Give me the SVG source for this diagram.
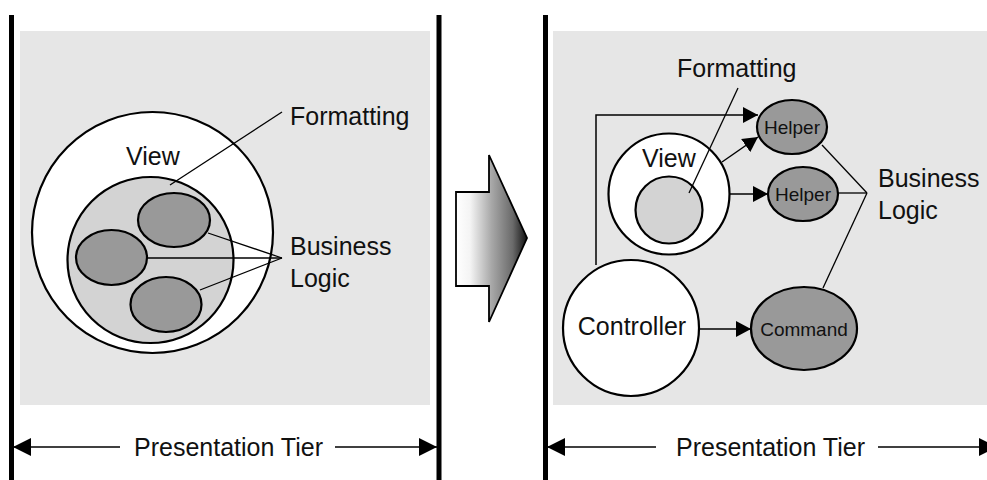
<svg xmlns="http://www.w3.org/2000/svg" width="987" height="480" viewBox="0 0 987 480">
<style>
text{font-family:"Liberation Sans",Arial,sans-serif;fill:#111}
.lbl{font-size:25px}
.sm{font-size:19px}
.bg{fill:#e6e6e6}
.bar{stroke:#000;stroke-width:5}
.wc{fill:#fff;stroke:#000;stroke-width:2.2}
.ic{fill:#d3d3d3;stroke:#000;stroke-width:2.2}
.dk{fill:#999;stroke:#000;stroke-width:2.2}
.ln{stroke:#000;stroke-width:1.3;fill:none}
.ar{stroke:#000;stroke-width:1.5;fill:none;marker-end:url(#ah)}
.tr{stroke:#000;stroke-width:1.5;fill:none;marker-end:url(#th)}
</style>
<defs>
<marker id="ah" markerUnits="userSpaceOnUse" markerWidth="16" markerHeight="18" refX="15" refY="9" orient="auto" viewBox="0 0 16 18">
<path d="M0,1 L15,9 L0,17 Z" fill="#000"/>
</marker>
<marker id="th" markerUnits="userSpaceOnUse" markerWidth="19" markerHeight="20" refX="18" refY="10" orient="auto" viewBox="0 0 19 20">
<path d="M0,1 L18,10 L0,19 Z" fill="#000"/>
</marker>
<linearGradient id="grad" x1="456" y1="0" x2="527" y2="0" gradientUnits="userSpaceOnUse">
<stop offset="0" stop-color="#fff"/>
<stop offset="0.2" stop-color="#f4f4f4"/>
<stop offset="0.5" stop-color="#a8a8a8"/>
<stop offset="0.8" stop-color="#6a6a6a"/>
<stop offset="1" stop-color="#111"/>
</linearGradient>
</defs>

<!-- backgrounds and tier bars -->
<rect class="bg" x="20" y="31" width="410" height="374"/>
<rect class="bg" x="553" y="31" width="434" height="374"/>
<line class="bar" x1="11.5" y1="15" x2="11.5" y2="480"/>
<line class="bar" x1="439" y1="15" x2="439" y2="480"/>
<line class="bar" x1="545.5" y1="15" x2="545.5" y2="480"/>

<!-- transition arrow -->
<g id="transition">
<path d="M456,192 L489,192 L489,155 L527,238 L489,322 L489,286 L456,286 Z" fill="url(#grad)" stroke="#000" stroke-width="1.8" stroke-linejoin="miter"/>
</g>

<!-- LEFT PANEL nodes -->
<g id="view-left">
<circle class="wc" cx="152.5" cy="232.5" r="120.5"/>
<text class="lbl" x="126" y="165">View</text>
</g>
<g id="formatting-left">
<circle class="ic" cx="150.5" cy="260" r="83"/>
</g>
<g id="logic-left-top">
<ellipse class="dk" cx="174" cy="220" rx="36" ry="27"/>
</g>
<g id="logic-left-mid">
<ellipse class="dk" cx="111.5" cy="257.5" rx="35.5" ry="27.5"/>
</g>
<g id="logic-left-bot">
<ellipse class="dk" cx="166" cy="304.5" rx="35.5" ry="27.5"/>
</g>
<g id="label-formatting-left">
<text class="lbl" x="290" y="125">Formatting</text>
</g>
<g id="label-business-left">
<text class="lbl" x="290" y="255">Business</text>
<text class="lbl" x="290" y="287">Logic</text>
</g>

<!-- RIGHT PANEL nodes -->
<g id="view-right">
<circle class="wc" cx="669" cy="194" r="60.5"/>
<text class="lbl" x="642" y="167">View</text>
</g>
<g id="formatting-right">
<circle class="ic" cx="669" cy="210" r="33.5"/>
</g>
<g id="controller">
<circle class="wc" cx="631" cy="328" r="68"/>
<text class="lbl" x="632" y="335" text-anchor="middle">Controller</text>
</g>
<g id="helper-1">
<ellipse class="dk" cx="792" cy="127" rx="35" ry="27"/>
<text class="sm" x="792" y="134" text-anchor="middle">Helper</text>
</g>
<g id="helper-2">
<ellipse class="dk" cx="803" cy="194" rx="35" ry="27"/>
<text class="sm" x="803" y="201" text-anchor="middle">Helper</text>
</g>
<g id="command">
<ellipse class="dk" cx="804" cy="328.5" rx="53" ry="41.5"/>
<text class="sm" x="804" y="335.5" text-anchor="middle">Command</text>
</g>
<g id="label-formatting-right">
<text class="lbl" x="677" y="77">Formatting</text>
</g>
<g id="label-business-right">
<text class="lbl" x="878" y="187">Business</text>
<text class="lbl" x="878" y="219">Logic</text>
</g>

<!-- tier labels -->
<g id="tier-left">
<text class="lbl" x="228.5" y="456" text-anchor="middle">Presentation Tier</text>
</g>
<g id="tier-right">
<text class="lbl" x="770.5" y="456" text-anchor="middle">Presentation Tier</text>
</g>

<!-- connectors -->
<g id="connectors">
<!-- left callouts -->
<line class="ln" x1="282" y1="112" x2="170" y2="185"/>
<line class="ln" x1="282" y1="258" x2="208" y2="233"/>
<line class="ln" x1="282" y1="258" x2="147" y2="258"/>
<line class="ln" x1="282" y1="258" x2="200" y2="290"/>
<!-- right callouts -->
<line class="ln" x1="738" y1="88" x2="689" y2="193"/>
<line class="ln" x1="867" y1="193" x2="822" y2="145"/>
<line class="ln" x1="867" y1="193" x2="838" y2="193"/>
<line class="ln" x1="867" y1="193" x2="823" y2="288"/>
<!-- right arrows -->
<polyline class="ar" points="596,265 596,115 758,115"/>
<line class="ar" x1="722" y1="162" x2="758" y2="137"/>
<line class="ar" x1="729.5" y1="194" x2="768" y2="194"/>
<line class="ar" x1="699" y1="329" x2="751" y2="329"/>
<!-- tier arrows -->
<line class="tr" x1="120" y1="447" x2="13" y2="447"/>
<line class="tr" x1="335" y1="447" x2="437" y2="447"/>
<line class="tr" x1="656" y1="447" x2="547" y2="447"/>
<line class="tr" x1="878" y1="447" x2="997" y2="447"/>
</g>
</svg>
